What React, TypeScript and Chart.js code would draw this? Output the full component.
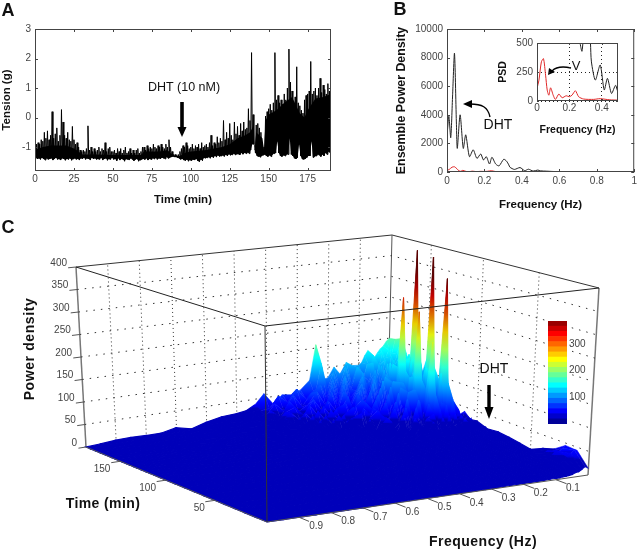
import React, { useEffect, useRef } from "react";
import { Chart, registerables } from "chart.js";

Chart.register(...registerables);

// ---------- Panel A ----------
const tensionUpper = [
  -0.95,-0.9,-0.85,-0.9,-0.75,-0.8,-0.5,-0.7,-0.45,-0.75,
  -0.6,0.2,-0.7,-0.55,-0.35,-0.8,-0.6,0.27,-0.15,-0.6,
  -0.7,-0.5,-0.75,-0.8,-0.3,-0.75,-0.9,-0.85,-1.0,-1.1,
  -1.15,-1.1,-1.15,-1.05,-0.28,-1.1,-1.0,-1.15,-1.05,-1.15,
  -1.1,-1.0,-1.15,-1.05,-1.1,-0.85,-1.15,-1.05,-1.0,-1.15,
  -1.15,-1.1,-1.2,-1.05,-1.15,-1.05,-1.2,-1.1,-1.0,-1.2,
  -1.15,-1.05,-1.2,-1.1,-1.2,-1.1,-1.05,-1.2,-1.15,-1.0,
  -1.0,-1.1,-0.95,-1.05,-1.0,-1.05,-0.9,-1.0,-1.05,-0.95,
  -1.0,-0.9,-1.0,-1.05,-0.9,-1.0,-0.75,-1.0,-1.15,-1.25,
  -1.25,-1.28,-1.25,-1.15,-1.05,-0.95,-1.0,-0.85,-0.95,-1.05,
  -1.0,-0.9,-1.05,-0.95,-1.0,-0.9,-1.05,-0.85,-1.0,-0.95,
  -0.9,-1.0,-0.85,-0.6,-0.95,-0.85,-0.9,-0.65,-0.85,-0.7,
  -0.8,-0.1,-0.75,-0.5,-0.7,-0.2,-0.6,-0.75,-0.15,-0.55,
  -0.3,-0.6,-0.2,-0.45,-0.15,-0.4,-0.35,0.3,-0.1,2.2,
  0.1,-0.95,-0.25,-0.2,-0.35,-0.5,-0.9,-1.0,0.05,0.2,
  0.3,0.45,0.25,0.5,2.2,0.6,0.75,0.5,0.6,0.45,
  0.8,0.6,1.0,2.32,1.2,0.9,0.55,0.7,1.72,0.5,
  0.4,0.25,0.15,0.6,0.75,0.8,0.9,1.9,0.8,0.9,
  1.0,0.75,1.0,1.33,0.85,1.1,0.95,0.8,1.15,0.9,1.05,
];
const tensionLower = [
  -1.35,-1.4,-1.38,-1.42,-1.36,-1.4,-1.44,-1.38,-1.42,-1.4,
  -1.38,-1.44,-1.4,-1.36,-1.42,-1.4,-1.44,-1.38,-1.4,-1.45,
  -1.4,-1.42,-1.38,-1.45,-1.4,-1.38,-1.42,-1.4,-1.44,-1.38,
  -1.4,-1.36,-1.42,-1.38,-1.4,-1.44,-1.36,-1.4,-1.38,-1.42,
  -1.4,-1.42,-1.36,-1.44,-1.4,-1.38,-1.45,-1.4,-1.42,-1.36,
  -1.42,-1.4,-1.46,-1.38,-1.44,-1.4,-1.42,-1.48,-1.4,-1.42,
  -1.44,-1.38,-1.42,-1.46,-1.42,-1.4,-1.48,-1.44,-1.42,-1.4,
  -1.42,-1.38,-1.44,-1.4,-1.42,-1.38,-1.4,-1.36,-1.42,-1.38,
  -1.4,-1.36,-1.38,-1.4,-1.34,-1.38,-1.36,-1.34,-1.32,-1.34,
  -1.34,-1.36,-1.38,-1.42,-1.4,-1.44,-1.46,-1.42,-1.48,-1.44,
  -1.46,-1.42,-1.44,-1.4,-1.46,-1.5,-1.42,-1.46,-1.36,-1.38,
  -1.36,-1.34,-1.38,-1.32,-1.36,-1.3,-1.34,-1.28,-1.32,-1.3,
  -1.28,-1.32,-1.26,-1.3,-1.24,-1.28,-1.26,-1.22,-1.26,-1.24,
  -1.24,-1.26,-1.2,-1.24,-1.2,-1.22,-1.18,-1.22,-1.1,-0.9,
  -0.9,-1.2,-1.3,-1.32,-1.34,-1.3,-1.28,-1.25,-1.3,-1.32,
  -1.28,-1.32,-1.25,-1.22,-1.2,-0.8,-1.2,-1.3,-1.32,-1.28,
  -1.3,-1.25,-1.25,-0.7,-1.25,-1.3,-1.38,-1.4,-1.36,-0.9,
  -1.3,-1.4,-1.42,-1.4,-1.35,-1.3,-1.3,-0.8,-1.35,-1.32,
  -1.3,-1.25,-1.28,-1.32,-1.25,-1.3,-1.2,-1.25,-1.15,-1.2,-1.1,
];
const coreTime = [0,5,10,15,20,25,28,30,40,50,60,68,70,80,85,88,90,93,96,100,110,115,120,125,130,135,138,140,141,142,146,147,148,150,155,160,165,170,173,175,180,185,190];
const coreTension = [-1.1,-1.0,-0.95,-0.95,-0.95,-1.05,-1.15,-1.25,-1.25,-1.27,-1.27,-1.27,-1.15,-1.15,-1.1,-1.25,-1.3,-1.3,-1.2,-1.15,-1.1,-1.05,-1.0,-0.9,-0.7,-0.6,-0.5,-0.3,-1.1,-0.5,-0.7,-1.1,-0.1,0.1,0.25,0.5,0.7,0.15,0.0,0.25,0.65,0.7,0.8];
const timeTicksA = [0, 25, 50, 75, 100, 125, 150, 175];
const tensionTicks = [-1, 0, 1, 2, 3];

// ---------- Panel B ----------
const dhtFreq = [0,.01,.02,.03,.04,.05,.055,.07,.087,.1,.12,.14,.16,.18,.195,.21,.227,.24,.26,.278,.303,.318,.33,.336,.36,.39,.415,.435,.46,.485,.5,.53,.56,.6,.65,.7,1];
const dhtPsd = [2500,3900,2400,5400,8300,3500,1650,4000,1650,2600,1070,1550,950,1260,840,1070,560,1030,560,430,890,760,500,337,180,310,95,195,65,135,80,60,40,25,10,5,0];
const ctrlFreq = [0,.012,.027,.04,.053,.063,.073,.084,.1,.114,.135,.155,.18,.2,.216,.237,.257,.288,.35,.39,.45,.5,.6,1];
const ctrlPsd = [108,180,337,365,223,94,50,114,50,14,60,28,45,37,50,88,37,17,14,20,10,8,4,0];
const freqTicksB = [0, 0.2, 0.4, 0.6, 0.8, 1];
const psdTicksB = [0, 2000, 4000, 6000, 8000, 10000];
const freqTicksInset = [0, 0.2, 0.4];
const psdTicksInset = [0, 250, 500];

// ---------- Panel C ----------
const surfaceFreq = [0,.01,.02,.03,.04,.05,.06,.07,.08,.09,.10,.12,.14,.16,.18,.20,.22,.24,.26,.29,.32,.35,.38,.41,.44,.47,.50,.55,.60,.65,.70,.75,.80,.85,.90,.95,1];
const surfaceTime = [190,184,178,172,166,160,155,151,147,143,139,135,131,126,121,117,112,106,100,90,80,70,60,50,40,30,20,10,0];
const surfacePower = [
  [150,144,133,127,117,106,95,127,116,100,95, 96,106,80,99,75,74,158,76, 56,48,51,33,60,37,26,23, 21,14,4,12,5,5,6,5,2,0],
  [152,118,128,110,124,95,105,120,90,100,72, 96,60,100,58,92,55,118,45, 40,66,38,56,30,28,30,16, 14,12,9,8,7,5,4,3,2,0],
  [158,125,96,118,80,112,70,102,62,108,66, 58,104,52,86,44,82,40,74, 58,30,60,26,46,20,26,15, 16,9,11,6,7,6,3,4,2,0],
  [128,98,122,76,114,62,108,58,104,50,96, 48,94,56,40,88,36,76,30, 66,38,26,52,20,36,16,22, 11,13,7,10,4,6,3,3,2,0],
  [90,130,70,122,64,106,48,116,54,100,42, 90,38,92,60,30,78,34,66, 26,56,22,44,36,16,28,12, 15,8,10,5,8,3,5,2,2,0],
  [138,84,128,60,124,52,112,44,118,40,96, 36,88,34,82,58,26,70,24, 54,22,50,18,38,24,14,20, 9,12,6,9,4,6,2,3,1,0],
  [96,132,70,110,135,58,100,66,115,40,84, 96,30,84,32,74,24,62,40, 18,48,16,40,14,30,12,16, 14,7,9,4,7,3,4,2,1,0],
  [130,76,124,125,390,130,56,118,282,105,38, 30,92,28,72,40,66,20,52, 44,14,44,12,32,16,24,10, 11,9,5,8,3,5,3,2,1,0],
  [60,126,50,96,132,48,98,60,112,36,88, 92,24,80,34,22,60,48,18, 16,46,12,36,18,26,10,16, 8,9,6,3,6,2,4,1,1,0],
  [100,46,92,42,84,38,116,30,100,28,90, 26,84,22,70,40,56,16,50, 36,12,38,10,28,18,20,8, 10,8,4,7,3,4,2,3,1,0],
  [80,72,38,95,130,34,88,62,105,24,74, 84,20,72,18,62,34,48,14, 12,40,10,32,8,22,8,14, 11,5,7,3,5,2,3,2,1,0],
  [70,32,78,122,384,126,30,112,260,100,22, 18,76,16,58,38,50,12,42, 34,8,32,8,24,12,18,6, 8,8,3,6,3,3,2,2,1,0],
  [62,60,28,74,130,26,82,30,105,20,84, 80,14,62,30,12,48,36,10, 26,30,8,26,6,20,6,13, 5,7,4,2,4,2,2,1,1,0],
  [53,24,70,26,105,22,92,24,85,16,60, 14,70,12,52,26,40,8,34, 8,24,22,6,20,8,15,6, 8,3,5,3,2,3,1,2,1,0],
  [35,58,22,120,343,125,20,100,200,85,14, 70,12,56,24,10,38,24,8, 22,7,20,14,6,14,5,10, 3,6,2,4,2,1,2,1,1,0],
  [28,20,60,24,105,18,62,22,85,14,62, 12,58,10,46,8,34,22,7, 24,16,6,14,12,5,10,4, 7,2,4,2,3,1,2,1,1,0],
  [40,18,46,20,72,16,60,14,52,12,44, 36,10,40,8,30,7,24,14, 6,18,5,14,4,10,3,8, 2,5,2,3,1,2,1,1,1,0],
  [26,34,14,38,12,44,12,42,10,38,9, 32,8,28,7,22,6,18,5, 13,4,11,4,9,3,7,3, 5,2,3,1,2,1,2,1,1,0],
  [28,12,34,10,36,9,30,8,28,7,24, 6,22,6,18,5,15,4,12, 3,10,3,8,3,6,2,5, 2,3,1,2,1,2,1,1,1,0],
  [19,24,20,26,22,24,18,20,16,18,14, 15,12,13,10,11,9,10,8, 8,7,7,6,6,5,5,4, 4,3,3,2,2,2,1,1,1,0],
  [21,17,22,18,20,14,16,13,14,12,12, 11,10,10,9,9,8,8,7, 7,6,6,5,5,5,4,4, 3,3,2,2,2,2,1,1,1,0],
  [18,15,17,14,14,12,12,10,11,9,10, 9,8,8,7,7,7,6,6, 6,5,5,5,4,4,4,3, 3,2,2,2,2,1,1,1,1,0],
  [14,12,12,11,11,9,10,8,9,8,8, 7,7,6,6,6,5,5,5, 5,5,4,4,4,3,3,3, 3,2,2,2,1,1,1,1,1,0],
  [9,10,9,9,8,8,7,7,7,6,6, 6,5,6,5,5,5,4,4, 4,4,4,3,3,3,3,3, 2,2,2,1,1,1,1,1,1,0],
  [20,16,14,12,10,9,8,8,7,7,6, 5,6,5,5,4,4,4,4, 4,3,3,3,3,3,2,2, 2,2,1,1,1,1,1,1,0,0],
  [28,24,26,20,16,14,11,9,8,8,7, 6,5,5,5,4,4,4,3, 3,3,3,3,2,2,2,2, 2,1,1,1,1,1,1,0,0,0],
  [45,40,34,36,28,20,14,11,9,7,6, 5,5,4,4,4,3,3,3, 3,3,2,2,2,2,2,2, 1,1,1,1,1,1,0,0,0,0],
  [43,46,38,30,26,18,12,9,7,6,5, 4,4,4,3,3,3,3,2, 2,2,2,2,2,2,1,1, 1,1,1,1,1,0,0,0,0,0],
  [14,18,14,10,9,6,5,4,4,3,3, 3,2,2,2,2,2,2,2, 1,1,1,1,1,1,1,1, 1,1,1,0,0,0,0,0,0,0],
];
const freqTicksC = [0.1, 0.2, 0.3, 0.4, 0.5, 0.6, 0.7, 0.8, 0.9];
const timeTicksC = [50, 100, 150];
const powerTicksC = [0, 50, 100, 150, 200, 250, 300, 350, 400];
const colorbarTicks = [100, 200, 300];

const SANS = '"Liberation Sans", Arial, sans-serif';
const TICK_COLOR = "#444";
const T_MAX = 190;
const COLOR_MAX = 386;
const COLOR_LEVELS = 20;
const COLOR_STEP = COLOR_MAX / COLOR_LEVELS;

// View of the MATLAB-style box: [x, y] of the corners, keyed by (freq, time)
const floorBox = { f1t0: [267, 522], f0t0: [588, 475], f0tM: [388, 400], f1tM: [86, 447] };
const topBox = { f1t0: [265, 326], f0t0: [599, 288], f0tM: [392, 235], f1tM: [76, 267] };

function timeFrac(t: number) {
  const X = t / T_MAX;
  return X / (0.88 + 0.12 * X);
}
function bilin(b: any, f: number, u: number, k: number) {
  const near = b.f0t0[k] + (b.f1t0[k] - b.f0t0[k]) * f;
  const far = b.f0tM[k] + (b.f1tM[k] - b.f0tM[k]) * f;
  return near + (far - near) * u;
}
function project(f: number, t: number, z: number) {
  const u = timeFrac(t);
  const w = z / 400;
  const fx = bilin(floorBox, f, u, 0), fy = bilin(floorBox, f, u, 1);
  const tx = bilin(topBox, f, u, 0), ty = bilin(topBox, f, u, 1);
  return { x: fx + (tx - fx) * w, y: fy + (ty - fy) * w };
}
function jet(v: number, shade = 1) {
  const t = Math.max(0, Math.min(1, v / COLOR_MAX));
  const c = (d: number) => Math.round(255 * shade * Math.max(0, Math.min(1, 1.5 - Math.abs(4 * t - d))));
  return `rgb(${c(3)},${c(2)},${c(1)})`;
}
// The surface is lit: tall parts are duller than the colour bar, the low floor is one flat blue.
function surfaceColor(v: number) {
  if (v < 32) return jet(22);
  const shade = 1 - 0.3 * Math.max(0, Math.min(1, (v - 170) / 170));
  return jet(v * 1.15, shade);
}

function quadDatasets() {
  const out: any[] = [];
  const nR = surfaceTime.length, nC = surfaceFreq.length;
  for (let i = 0; i < nR - 1; i++) {
    for (let j = 0; j < nC - 1; j++) {
      const corners = [[i, j], [i, j + 1], [i + 1, j + 1], [i + 1, j]].map(([a, b]) => ({
        z: surfacePower[a][b],
        ...project(surfaceFreq[b], surfaceTime[a], surfacePower[a][b]),
      }));
      let lo = corners[0], hi = corners[0];
      corners.forEach((p) => { if (p.z < lo.z) lo = p; if (p.z > hi.z) hi = p; });
      const paint = (c: any) => {
        if (hi.z - lo.z < 8) return surfaceColor((hi.z + lo.z) / 2);
        const s = c.chart.scales.y;
        const px = (v: number) => {
          const r = s ? s.getPixelForValue(v) : NaN;
          return Number.isFinite(r) ? r : v;
        };
        const g = c.chart.ctx.createLinearGradient(0, px(lo.y), 0, px(hi.y));
        for (let k = 0; k <= 8; k++) g.addColorStop(k / 8, surfaceColor(lo.z + ((hi.z - lo.z) * k) / 8));
        return g;
      };
      out.push({
        type: "line",
        data: [...corners, corners[0]].map((p) => ({ x: p.x, y: p.y })),
        fill: "shape",
        backgroundColor: paint,
        borderColor: paint,
        borderWidth: hi.z < 40 ? 1.2 : 0.5,
        pointRadius: 0,
        tension: 0,
        order: 100000 - (i * nC + j),
      });
    }
  }
  return out;
}

function seg(pts: any[], color: string, width: number, order: number, dash: number[] = []) {
  return { type: "line", data: pts, borderColor: color, borderWidth: width, borderDash: dash, pointRadius: 0, fill: false, tension: 0, order };
}

function boxDatasets() {
  const out: any[] = [];
  const back = 200000, front = 0;
  const gc = "#333";
  // walls
  powerTicksC.slice(1, -1).forEach((z) => {
    out.push(seg([project(1, T_MAX, z), project(0, T_MAX, z), project(0, 0, z)], gc, 1, back, [1.5, 6]));
  });
  freqTicksC.forEach((f) => out.push(seg([project(f, T_MAX, 0), project(f, T_MAX, 400)], gc, 1, back, [1, 3])));
  timeTicksC.forEach((t) => out.push(seg([project(0, t, 0), project(0, t, 400)], gc, 1, back, [1, 3])));
  // back edges
  out.push(seg([project(0, T_MAX, 0), project(0, T_MAX, 400)], "#555", 1, back));
  out.push(seg([project(1, T_MAX, 400), project(0, T_MAX, 400), project(0, 0, 400)], "#333", 1, back));
  out.push(seg([project(1, T_MAX, 0), project(1, T_MAX, 400)], "#777", 1.5, back));
  out.push(seg([project(0, 0, 0), project(0, 0, 400)], "#777", 1.5, back));
  // front edges
  out.push(seg([project(1, T_MAX, 400), project(1, 0, 400), project(0, 0, 400)], "#222", 1, front));
  out.push(seg([project(1, 0, 400), project(1, 0, 0)], "#333", 1, front));
  out.push(seg([project(1, T_MAX, 0), project(1, 0, 0), project(0, 0, 0)], "#555", 1, front));
  // ticks
  powerTicksC.forEach((z) => out.push(seg([project(1, T_MAX, z), project(1.025, T_MAX, z)], "#555", 1, front)));
  timeTicksC.forEach((t) => out.push(seg([project(1, t, 0), project(1.03, t, 0)], "#555", 1, front)));
  freqTicksC.forEach((f) => out.push(seg([project(f, 0, 0), project(f, -9, 0)], "#555", 1, front)));
  return out;
}

function drawText(ctx: any, s: string, x: number, y: number, font: string, align = "center", rot = 0, color = "#111", spacing = "0px") {
  ctx.save();
  ctx.translate(x, y);
  ctx.rotate(rot);
  ctx.font = font;
  ctx.letterSpacing = spacing;
  ctx.fillStyle = color;
  ctx.textAlign = align;
  ctx.textBaseline = "middle";
  ctx.fillText(s, 0, 0);
  ctx.restore();
}
function blockArrow(ctx: any, x: number, y0: number, y1: number, tip: number, sw: number, hw: number) {
  ctx.fillStyle = "#000";
  ctx.fillRect(x - sw / 2, y0, sw, y1 - y0);
  ctx.beginPath();
  ctx.moveTo(x - hw, y1);
  ctx.lineTo(x + hw, y1);
  ctx.lineTo(x, tip);
  ctx.closePath();
  ctx.fill();
}
function curveArrow(ctx: any, a: number[], c1: number[], c2: number[], b: number[], head: number[][]) {
  ctx.strokeStyle = "#000";
  ctx.lineWidth = 1.4;
  ctx.beginPath();
  ctx.moveTo(a[0], a[1]);
  ctx.bezierCurveTo(c1[0], c1[1], c2[0], c2[1], b[0], b[1]);
  ctx.stroke();
  ctx.fillStyle = "#000";
  ctx.beginPath();
  ctx.moveTo(head[0][0], head[0][1]);
  ctx.lineTo(head[1][0], head[1][1]);
  ctx.lineTo(head[2][0], head[2][1]);
  ctx.closePath();
  ctx.fill();
}

const annotations = {
  id: "annotations",
  afterDatasetsDraw(chart: any) {
    const ctx = chart.ctx;
    const big = `bold 18px ${SANS}`;
    const label = `bold 14px ${SANS}`;
    const tick = `10px ${SANS}`;
    drawText(ctx, "A", 8, 11, big);
    drawText(ctx, "B", 400, 10, big);
    drawText(ctx, "C", 8, 228, big);
    drawText(ctx, "DHT (10 nM)", 184, 88, `12.5px ${SANS}`);
    blockArrow(ctx, 182, 102, 127, 137, 3.6, 4.5);
    drawText(ctx, "DHT", 498, 125, `14px ${SANS}`);
    curveArrow(ctx, [490, 117], [488, 107], [482, 104], [470, 104], [[463, 104], [472, 100], [472, 108]]);
    drawText(ctx, "V", 576, 66, `13px ${SANS}`);
    curveArrow(ctx, [571, 68], [562, 66], [556, 67], [552, 71], [[548, 75], [549, 68], [555, 72]]);
    drawText(ctx, "DHT", 494, 369, `14px ${SANS}`);
    blockArrow(ctx, 489, 385, 407, 419, 3.4, 4.5);
    drawText(ctx, "Power density", 30, 349, label, "center", -Math.PI / 2, "#111", "0.6px");
    drawText(ctx, "Time (min)", 103, 504, label, "center", 0, "#111", "0.4px");
    drawText(ctx, "Frequency (Hz)", 483, 542, label, "center", 0, "#111", "0.5px");
    powerTicksC.forEach((z) => {
      const p = project(1, T_MAX, z);
      drawText(ctx, String(z), p.x - 9, p.y - 4, tick, "right", 0, TICK_COLOR);
    });
    timeTicksC.forEach((t) => {
      const p = project(1, t, 0);
      drawText(ctx, String(t), p.x - 10, p.y + 8, tick, "right", 0, TICK_COLOR);
    });
    freqTicksC.forEach((f) => {
      const p = project(f, 0, 0);
      drawText(ctx, f.toFixed(1), p.x + 17, p.y + 9, tick, "center", 0, TICK_COLOR);
    });
  },
};

const frame = {
  id: "frame",
  afterDraw(chart: any) {
    const { ctx, chartArea: a, scales } = chart;
    const len = chart.options.plugins.frame?.len ?? 3;
    ctx.save();
    ctx.strokeStyle = "#444";
    ctx.lineWidth = 1;
    ctx.strokeRect(a.left + 0.5, a.top + 0.5, a.right - a.left - 1, a.bottom - a.top - 1);
    ctx.beginPath();
    scales.x.ticks.forEach((t: any) => {
      const x = Math.round(scales.x.getPixelForValue(t.value)) + 0.5;
      ctx.moveTo(x, a.bottom); ctx.lineTo(x, a.bottom - len);
      ctx.moveTo(x, a.top); ctx.lineTo(x, a.top + len);
    });
    scales.y.ticks.forEach((t: any) => {
      const y = Math.round(scales.y.getPixelForValue(t.value)) + 0.5;
      ctx.moveTo(a.left, y); ctx.lineTo(a.left + len, y);
      ctx.moveTo(a.right, y); ctx.lineTo(a.right - len, y);
    });
    ctx.stroke();
    ctx.restore();
  },
};

function axis(o: any) {
  const { min, max, ticks, size, fit, fitKey, title, titleSize, pad, grid, tickPad } = o;
  return {
    type: "linear",
    min,
    max,
    afterBuildTicks: (s: any) => { s.ticks = ticks.map((value: number) => ({ value })); },
    afterFit: (s: any) => { s[fitKey] = fit; },
    ticks: {
      callback: (v: number) => String(v),
      autoSkip: false,
      maxRotation: 0,
      minRotation: 0,
      padding: tickPad ?? 3,
      color: TICK_COLOR,
      font: { family: SANS, size: size ?? 10 },
    },
    grid: grid ?? { display: false, drawTicks: false },
    border: { display: false },
    title: {
      display: true,
      text: title,
      color: "#111",
      padding: pad,
      font: { family: SANS, size: titleSize ?? 11.5, weight: "bold" },
    },
  };
}

const baseOptions = {
  responsive: false,
  animation: false,
  maintainAspectRatio: false,
  events: [],
  plugins: { legend: { display: false }, tooltip: { enabled: false } },
};

function xy(xs: number[], ys: number[]) {
  return xs.map((x, i) => ({ x, y: ys[i] }));
}
function zigzag(up: number[], lo: number[]) {
  const pts: any[] = [];
  up.forEach((v, i) => {
    pts.push({ x: i, y: v });
    pts.push({ x: i + 0.5, y: lo[i] });
  });
  return pts;
}

const place = (l: number, t: number, z: number): React.CSSProperties => ({ position: "absolute", left: l, top: t, zIndex: z });

export default function App() {
  const cRef = useRef<HTMLCanvasElement>(null);
  const aRef = useRef<HTMLCanvasElement>(null);
  const bRef = useRef<HTMLCanvasElement>(null);
  const iRef = useRef<HTMLCanvasElement>(null);
  const barRef = useRef<HTMLCanvasElement>(null);

  useEffect(() => {
    const charts: Chart[] = [];

    charts.push(new Chart(cRef.current as any, {
      type: "scatter",
      data: { datasets: [...boxDatasets(), ...quadDatasets()] as any },
      options: {
        ...baseOptions,
        parsing: false,
        normalized: true,
        layout: { padding: 0 },
        scales: {
          x: { type: "linear", min: 0, max: 640, display: false },
          y: { type: "linear", min: 0, max: 551, reverse: true, display: false },
        },
      } as any,
      plugins: [annotations],
    } as any));

    charts.push(new Chart(aRef.current as any, {
      type: "line",
      data: {
        datasets: [
          { data: zigzag(tensionUpper, tensionLower), borderColor: "#000", borderWidth: 1, pointRadius: 0, tension: 0 },
          { data: tensionLower.map((y, i) => ({ x: i + 0.5, y })), borderWidth: 0, borderColor: "#000", pointRadius: 0, tension: 0 },
          { data: xy(coreTime, coreTension), borderWidth: 0, borderColor: "#000", backgroundColor: "#000", fill: "-1", pointRadius: 0, tension: 0 },
        ],
      },
      options: {
        ...baseOptions,
        parsing: false,
        layout: { padding: { top: 29, right: 9 } },
        scales: {
          x: axis({ min: 0, max: 190, ticks: timeTicksA, fit: 41, fitKey: "height", title: "Time (min)", pad: { top: 0, bottom: 5 }, tickPad: 2 }),
          y: axis({ min: -1.81, max: 3, ticks: tensionTicks, fit: 35, fitKey: "width", title: "Tension (g)", pad: { top: 0, bottom: 0 }, tickPad: 4 }),
        },
      } as any,
      plugins: [frame],
    } as any));

    const lineB = (xs: number[], ys: number[], color: string) => ({
      data: xy(xs, ys), borderColor: color, borderWidth: 1, pointRadius: 0, tension: 0.25,
    });

    charts.push(new Chart(bRef.current as any, {
      type: "line",
      data: { datasets: [lineB(ctrlFreq, ctrlPsd, "#e02828"), lineB(dhtFreq, dhtPsd, "#222")] },
      options: {
        ...baseOptions,
        parsing: false,
        layout: { padding: { top: 29, right: 1 } },
        scales: {
          x: axis({ min: 0, max: 1, ticks: freqTicksB, fit: 43, fitKey: "height", title: "Frequency (Hz)", pad: { top: 0, bottom: 3 } }),
          y: axis({ min: 0, max: 10000, ticks: psdTicksB, fit: 67, fitKey: "width", title: "Ensemble Power Density", titleSize: 12.4, pad: { top: 14, bottom: 0 }, tickPad: 4 }),
        },
      } as any,
      plugins: [frame],
    } as any));

    const dotted = { color: "#222", drawTicks: false, tickLength: 0, lineWidth: 1 };
    const insetX = axis({ min: 0, max: 0.5, ticks: freqTicksInset, fit: 35, fitKey: "height", title: "Frequency (Hz)", titleSize: 10.5, pad: { top: 0, bottom: 0 }, grid: dotted, tickPad: 1 });
    const insetY = axis({ min: 0, max: 500, ticks: psdTicksInset, fit: 42, fitKey: "width", title: "PSD", titleSize: 10.5, pad: { top: 2, bottom: 0 }, grid: dotted, tickPad: 4 });
    insetX.border = { display: false, dash: [1, 3] } as any;
    insetY.border = { display: false, dash: [1, 3] } as any;

    charts.push(new Chart(iRef.current as any, {
      type: "line",
      data: { datasets: [lineB(ctrlFreq, ctrlPsd, "#e02828"), lineB(dhtFreq, dhtPsd, "#222")] },
      options: {
        ...baseOptions,
        parsing: false,
        layout: { padding: { top: 13, right: 7 } },
        scales: { x: insetX, y: insetY },
        plugins: { ...baseOptions.plugins, frame: { len: 2 } },
      } as any,
      plugins: [frame],
    } as any));

    const levels = Array.from({ length: COLOR_LEVELS }, (_, i) => i);
    charts.push(new Chart(barRef.current as any, {
      type: "bar",
      data: {
        labels: ["power"],
        datasets: levels.map((i) => ({
          data: [[i * COLOR_STEP, (i + 1) * COLOR_STEP]],
          backgroundColor: jet((i + 0.5) * COLOR_STEP),
          grouped: false,
          barPercentage: 1,
          categoryPercentage: 1,
          borderWidth: 0,
        })) as any,
      },
      options: {
        ...baseOptions,
        layout: { padding: { left: 8, top: 9, bottom: 13 } },
        scales: {
          x: { display: false },
          y: {
            position: "right",
            min: 0,
            max: COLOR_MAX,
            afterBuildTicks: (s: any) => { s.ticks = colorbarTicks.map((value) => ({ value })); },
            afterFit: (s: any) => { s.width = 33; },
            ticks: { padding: 2, color: TICK_COLOR, font: { family: SANS, size: 10 }, callback: (v: number) => String(v) },
            grid: { display: false, drawTicks: false },
            border: { display: false },
          },
        },
      } as any,
    } as any));

    return () => charts.forEach((c) => c.destroy());
  }, []);

  return (
    <div style={{ position: "fixed", left: 0, top: 0, width: 640, height: 551, background: "#fff", overflow: "hidden" }}>
      <canvas ref={cRef} width={640} height={551} style={place(0, 0, 1)} />
      <canvas ref={aRef} width={340} height={212} style={place(0, 0, 2)} />
      <canvas ref={bRef} width={260} height={215} style={place(380, 0, 2)} />
      <canvas ref={iRef} width={130} height={106} style={place(495, 30, 3)} />
      <canvas ref={barRef} width={60} height={125} style={place(540, 312, 3)} />
    </div>
  );
}
